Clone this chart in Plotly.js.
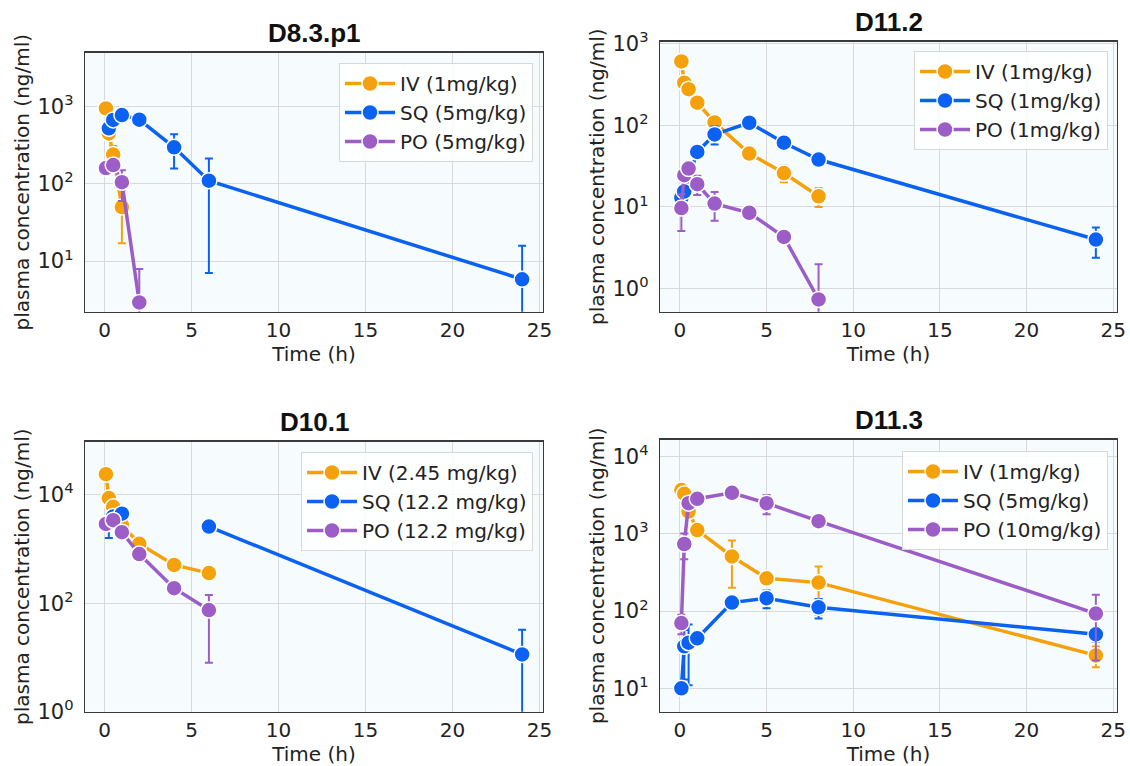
<!DOCTYPE html>
<html><head><meta charset="utf-8">
<script src="https://cdn.plot.ly/plotly-3.0.1.min.js"></script>
<style>html,body{margin:0;padding:0;background:#fff}#chart{width:1130px;height:766px}</style>
</head><body><div id="chart"></div>
<script>
// ---------------- DATA ----------------
const panelTitles = ['D8.3.p1', 'D11.2', 'D10.1', 'D11.3'];
const seriesNames = ['IV', 'SQ', 'PO'];
const doseLabels = [
  ['IV (1mg/kg)', 'SQ (5mg/kg)', 'PO (5mg/kg)'],
  ['IV (1mg/kg)', 'SQ (1mg/kg)', 'PO (1mg/kg)'],
  ['IV (2.45 mg/kg)', 'SQ (12.2 mg/kg)', 'PO (12.2 mg/kg)'],
  ['IV (1mg/kg)', 'SQ (5mg/kg)', 'PO (10mg/kg)']
];
const xTickVals = [0, 5, 10, 15, 20, 25];
const yTickExps = [[1, 2, 3], [0, 1, 2, 3], [0, 2, 4], [1, 2, 3, 4]];

// Panel 1 : D8.3.p1
const p1IvT = [0.083, 0.25, 0.5, 1];
const p1IvY = [950, 450, 240, 50];
const p1IvE = [40, 60, 70, 33];
const p1SqT = [0.25, 0.5, 1, 2, 4, 6, 24];
const p1SqY = [525, 675, 780, 680, 298, 110, 5.8];
const p1SqE = [40, 50, 40, 40, 140, 103, 10];
const p1PoT = [0.083, 0.5, 1, 2];
const p1PoY = [160, 175, 105, 2.9];
const p1PoE = [15, 20, 45, 5];

// Panel 2 : D11.2
const p2IvT = [0.083, 0.25, 0.5, 1, 2, 4, 6, 8];
const p2IvY = [600, 330, 275, 188, 108, 45, 26, 13.5];
const p2IvE = [40, 30, 20, 10, 8, 4, 6, 3.5];
const p2SqT = [0.083, 0.25, 1, 2, 4, 6, 8, 24];
const p2SqY = [13, 15.5, 47, 77, 107, 61, 38, 4.0];
const p2SqE = [2, 3, 6, 19, 8, 5, 3, 1.6];
const p2PoT = [0.083, 0.25, 0.5, 1, 2, 4, 6, 8];
const p2PoY = [9.7, 24.5, 29.5, 19, 11, 8.5, 4.3, 0.74];
const p2PoE = [4.6, 3, 3, 5, 4.2, 0.8, 0.5, 1.25];

// Panel 3 : D10.1
const p3IvT = [0.083, 0.25, 0.5, 1, 2, 4, 6];
const p3IvY = [24000, 8700, 6000, 2800, 1250, 510, 360];
const p3IvE = [1000, 1500, 1000, 500, 150, 50, 40];
const p3SqT = [0.25, 0.5, 1, 2, 6, 24];
const p3SqY = [3000, 4000, 4500, null, 2600, 11.4];
const p3SqE = [1400, 500, 500, 0, 300, 21];
const p3PoT = [0.083, 0.5, 1, 2, 4, 6];
const p3PoY = [2900, 3400, 2050, 810, 190, 75];
const p3PoE = [300, 300, 200, 80, 20, 67];

// Panel 4 : D11.3
const p4IvT = [0.083, 0.25, 0.5, 1, 3, 5, 8, 24];
const p4IvY = [3700, 3300, 1950, 1120, 510, 266, 234, 26.7];
const p4IvE = [300, 300, 200, 100, 310, 30, 145, 8];
const p4SqT = [0.083, 0.25, 0.5, 1, 3, 5, 8, 24];
const p4SqY = [10, 35, 39, 44.5, 129, 147, 112, 50];
const p4SqE = [1, 22, 28, 5, 10, 38, 32, 10];
const p4PoT = [0.083, 0.25, 0.5, 1, 3, 5, 8, 24];
const p4PoY = [70, 740, 2500, 2850, 3400, 2500, 1460, 93];
const p4PoE = [20, 270, 300, 200, 300, 700, 150, 70];

// ---------------- STYLE / LAYOUT ----------------
const W = 1130, H = 766;
const colors = ['#f5a10c', '#0b62f2', '#9c5ec6'];
const FONT = 'DejaVu Sans';
const fx = px => px / W;
const fy = py => 1 - py / H;

const panels = [
  {T: [p1IvT, p1SqT, p1PoT], Y: [p1IvY, p1SqY, p1PoY], E: [p1IvE, p1SqE, p1PoE],
   xd: [85, 543], yd: [52.7, 311.7], xr: [-1.12, 25.2], yr: [0.343, 3.70], leg: [533, 63]},
  {T: [p2IvT, p2SqT, p2PoT], Y: [p2IvY, p2SqY, p2PoY], E: [p2IvE, p2SqE, p2PoE],
   xd: [660, 1117], yd: [41.7, 311.7], xr: [-1.15, 25.22], yr: [-0.28, 3.02], leg: [1108, 51]},
  {T: [p3IvT, p3SqT, p3PoT], Y: [p3IvY, p3SqY, p3PoY], E: [p3IvE, p3SqE, p3PoE],
   xd: [85, 543], yd: [441.7, 711.7], xr: [-1.12, 25.2], yr: [0, 4.98], leg: [533, 452]},
  {T: [p4IvT, p4SqT, p4PoT], Y: [p4IvY, p4SqY, p4PoY], E: [p4IvE, p4SqE, p4PoE],
   xd: [660, 1117], yd: [439.7, 711.8], xr: [-1.15, 25.22], yr: [0.696, 4.22], leg: [1108, 451]}
];

const traces = [];
const layout = {
  width: W, height: H,
  margin: {l: 0, r: 0, t: 0, b: 0},
  paper_bgcolor: '#ffffff',
  plot_bgcolor: '#f6fcfd',
  showlegend: true,
  hovermode: false,
  font: {family: FONT, color: '#222', size: 20},
  annotations: []
};

panels.forEach((p, i) => {
  const n = i + 1;
  const suf = n === 1 ? '' : String(n);
  const xa = 'xaxis' + suf, ya = 'yaxis' + suf;
  const xs = 'x' + suf, ys = 'y' + suf;
  const lg = 'legend' + suf;
  for (let s = 0; s < 3; s++) {
    traces.push({
      type: 'scatter', mode: 'lines+markers',
      x: p.T[s], y: p.Y[s], xaxis: xs, yaxis: ys,
      name: doseLabels[i][s], legend: lg,
      connectgaps: false,
      line: {color: colors[s], width: 3.5},
      marker: {color: colors[s], size: 16, line: {color: '#ffffff', width: 1.5}},
      error_y: {type: 'data', array: p.E[s], visible: true, color: colors[s], thickness: 2, width: 4}
    });
  }
  layout[xa] = {
    domain: [fx(p.xd[0]), fx(p.xd[1])], anchor: ys,
    range: p.xr, tickmode: 'array', tickvals: xTickVals,
    showgrid: true, gridcolor: '#d9d9d9', gridwidth: 1, zeroline: false,
    showline: true, mirror: true, linecolor: '#3a3a3a', linewidth: 1.3,
    ticks: '', ticklabelstandoff: 0,
    tickfont: {family: FONT, size: 20, color: '#222'},
    title: {text: 'Time (h)', font: {family: FONT, size: 20, color: '#222'}, standoff: 0}
  };
  layout[ya] = {
    domain: [fy(p.yd[1]), fy(p.yd[0])], anchor: xs, type: 'log',
    range: p.yr, tickmode: 'array',
    tickvals: yTickExps[i].map(e => Math.pow(10, e)),
    ticktext: yTickExps[i].map(e => '10<sup>' + e + '</sup>'),
    showgrid: true, gridcolor: '#d9d9d9', gridwidth: 1, zeroline: false,
    showline: true, mirror: true, linecolor: '#3a3a3a', linewidth: 1.3,
    ticks: '', ticklabelstandoff: 6,
    tickfont: {family: FONT, size: 21, color: '#222'},
    title: {text: 'plasma concentration (ng/ml)', font: {family: FONT, size: 20, color: '#222'}, standoff: 2}
  };
  layout[lg] = {
    x: fx(p.leg[0]), y: fy(p.leg[1]), xanchor: 'right', yanchor: 'top',
    xref: 'paper', yref: 'paper',
    bgcolor: 'rgba(255,255,255,0.85)', bordercolor: '#d8d8d8', borderwidth: 1,
    font: {family: FONT, size: 20, color: '#222'}, itemwidth: 50
  };
  layout.annotations.push({
    xref: 'paper', yref: 'paper', x: fx((p.xd[0] + p.xd[1]) / 2), y: fy(p.yd[0] - 20),
    xanchor: 'center', yanchor: 'middle', showarrow: false,
    text: panelTitles[i], font: {family: 'Liberation Sans', size: 26, color: '#111', weight: 700}
  });
});

Plotly.newPlot('chart', traces, layout, {displayModeBar: false, staticPlot: true});
</script>
</body></html>
